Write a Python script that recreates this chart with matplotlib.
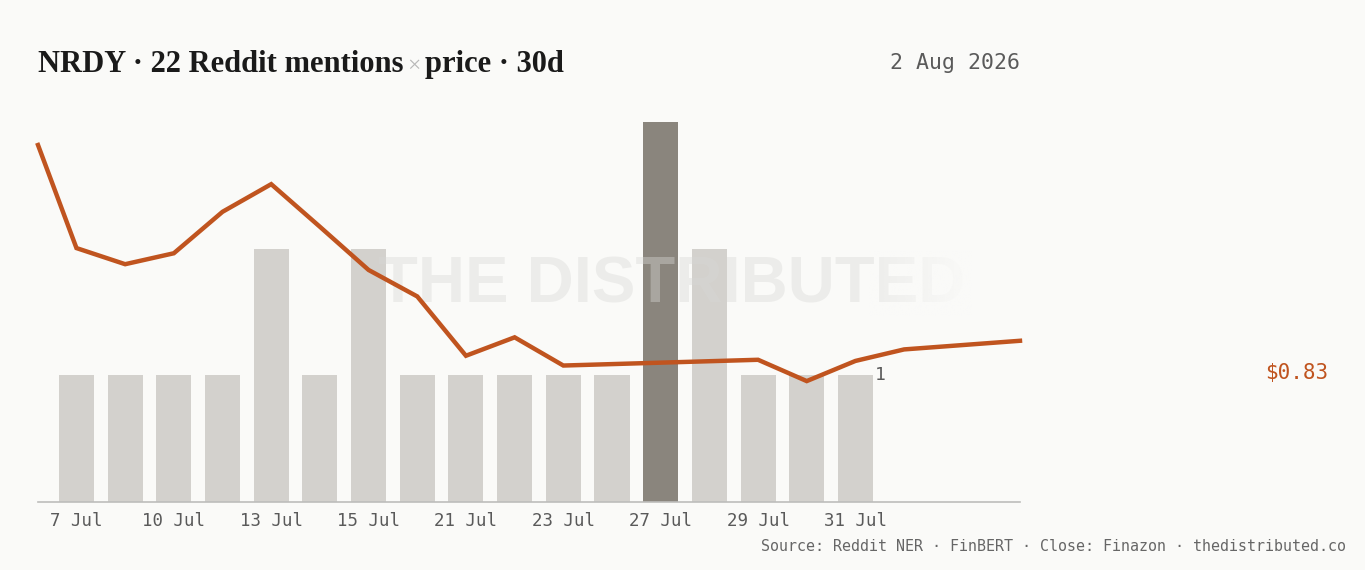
import matplotlib
matplotlib.use("Agg")
import matplotlib.pyplot as plt
import numpy as np

# mentions per day (bars), categorical days
dias = ["7 Jul", "9 Jul", "10 Jul", "12 Jul", "13 Jul", "14 Jul", "15 Jul", "17 Jul",
        "21 Jul", "22 Jul", "23 Jul", "24 Jul", "27 Jul", "28 Jul", "29 Jul", "30 Jul", "31 Jul"]
menciones = [1, 1, 1, 1, 2, 1, 2, 1, 1, 1, 1, 1, 3, 2, 1, 1, 1]
dia_destacado = "27 Jul"

# close price, positioned on the same day scale
precio_pos = [-0.79, 0, 1, 2, 3, 4, 5, 6, 7, 8, 9, 10, 14, 15, 16, 17, 19.38]
precio = [1.170, 0.991, 0.963, 0.982, 1.054, 1.102, 1.028, 0.953, 0.907,
          0.804, 0.836, 0.787, 0.797, 0.760, 0.795, 0.815, 0.830]

ticks_mostrados = ["7 Jul", "10 Jul", "13 Jul", "15 Jul", "21 Jul", "23 Jul", "27 Jul", "29 Jul", "31 Jul"]

fondo = "#fafaf8"
naranja = "#c0541f"
gris_barra = "#d3d1cd"
gris_oscuro = "#8a857d"
gris_texto = "#5a5a5a"
mono = "DejaVu Sans Mono"

fig = plt.figure(figsize=(13.65, 5.7), dpi=100, facecolor=fondo)
ax = fig.add_axes([0.02784, 0.1193, 0.7194, 0.6667])
ax.set_facecolor(fondo)

x = list(range(len(dias)))
colores = [gris_oscuro if d == dia_destacado else gris_barra for d in dias]
ax.bar(x, menciones, width=0.72, color=colores, zorder=1)
ax.set_xlim(-0.79, 19.38)
ax.set_ylim(0, 3)

ax.text(x[-1] + 0.39, menciones[-1], str(menciones[-1]), ha="left", va="center",
        fontsize=13, family=mono, color=gris_texto, zorder=4)

ax.set_xticks([dias.index(t) for t in ticks_mostrados])
ax.set_xticklabels(ticks_mostrados, family=mono, fontsize=12.5, color=gris_texto)
ax.tick_params(axis="x", length=0, pad=7)
ax.set_yticks([])
for lado in ["top", "left", "right"]:
    ax.spines[lado].set_visible(False)
ax.spines["bottom"].set_color("#bdbdbb")
ax.spines["bottom"].set_linewidth(1.2)

# watermark, fading out on the right
ax.text(0.6456, 0.571, "THE DISTRIBUTED", transform=ax.transAxes, ha="center", va="center",
        fontsize=47, fontweight="bold", family="Liberation Sans", color="#d8d8d6",
        alpha=0.4, zorder=2)
rampa = np.zeros((1, 100, 4))
rampa[..., :3] = matplotlib.colors.to_rgb(fondo)
rampa[..., 3] = np.linspace(0, 1, 100) ** 0.8
ax.imshow(rampa, extent=(0.845, 0.95, 0.49, 0.66), transform=ax.transAxes,
          aspect="auto", zorder=3, interpolation="bilinear")

ax2 = ax.twinx()
ax2.plot(precio_pos, precio, color=naranja, linewidth=3.2, solid_joinstyle="miter", zorder=5,
         clip_on=False)
ax2.set_ylim(0.55, 1.21)
ax2.set_yticks([])
for lado in ["top", "left", "right", "bottom"]:
    ax2.spines[lado].set_visible(False)

fig.text(0.973, 0.346, "$%.2f" % precio[-1], ha="right", va="center", fontsize=15,
         family=mono, color=naranja)

# title in three pieces
renderer = fig.canvas.get_renderer()
tx, ty = 0.0278, 0.8737
partes = [("NRDY · 22 Reddit mentions", "#1a1a1a", 22, "bold"),
          ("×", "#b8b8b8", 17, "normal"),
          ("price · 30d", "#1a1a1a", 22, "bold")]
for s, c, fs, peso in partes:
    t = fig.text(tx, ty, s, ha="left", va="baseline", fontsize=fs, fontweight=peso,
                 family="Liberation Serif", color=c)
    bb = t.get_window_extent(renderer)
    tx += (bb.width + 4) / fig.bbox.width

fig.text(0.7473, 0.8895, "2 Aug 2026", ha="right", va="center", fontsize=15.5,
         family=mono, color=gris_texto)
fig.text(0.986, 0.0404, "Source: Reddit NER · FinBERT · Close: Finazon · thedistributed.co",
         ha="right", va="center", fontsize=10.8, family=mono, color="#666666")

fig.savefig("out.png", dpi=100, facecolor=fondo)
